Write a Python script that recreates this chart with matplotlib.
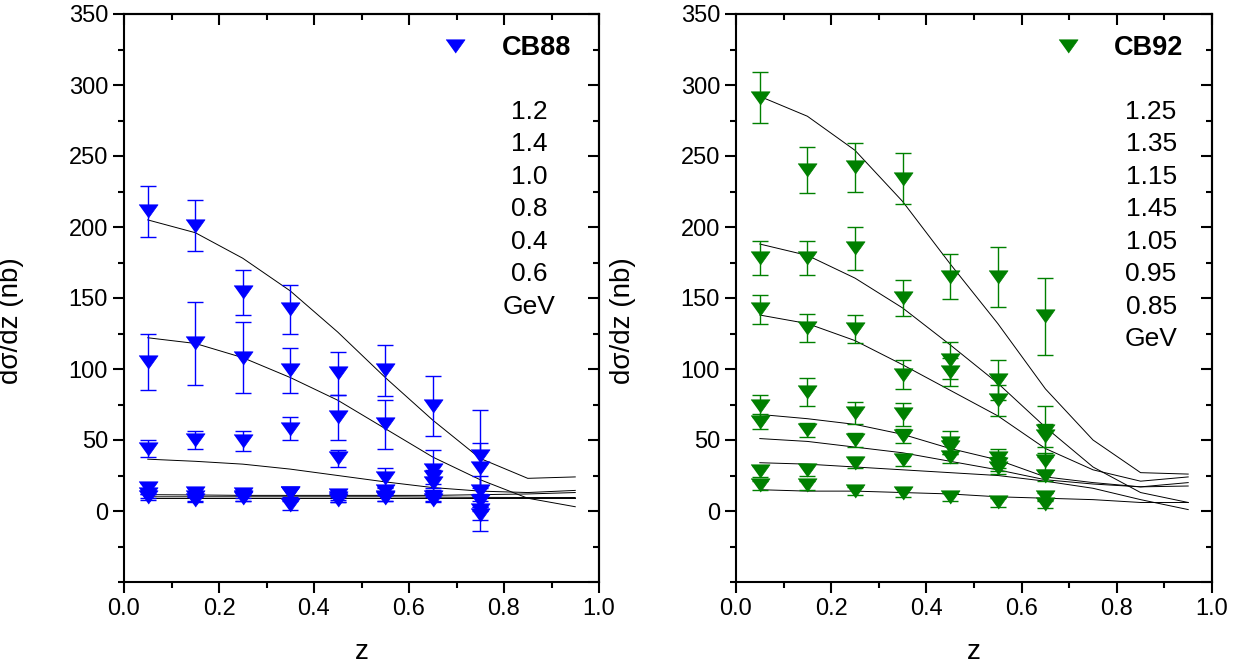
import matplotlib
matplotlib.use("Agg")
import matplotlib.pyplot as plt
from matplotlib.ticker import MultipleLocator

plt.rcParams['font.family'] = ['Liberation Sans', 'DejaVu Sans']

# ---- CB88 (left panel) ----
z88 = [0.05, 0.15, 0.25, 0.35, 0.45, 0.55, 0.65, 0.75]
cb88 = [
    [211, 201, 154, 142, 97, 99, 74, 39],
    [105, 118, 108, 99, 66, 61, 29, 30],
    [44, 50, 49, 58, 37, 23, 24, 14],
    [16, 13, 12, 13, 11, 14, 20, 7],
    [12, 10, 10, 13, 9, 10, 10, 1],
    [10, 8, 9, 4, 8, 9, 8, -3],
]
cb88_err = [
    [18, 18, 16, 17, 15, 18, 21, 32],
    [20, 29, 25, 16, 16, 17, 14, 18],
    [6, 6, 7, 8, 6, 7, 5, 11],
    [4, 3, 3, 4, 3, 3, 4, 4],
    [3, 3, 3, 3, 3, 3, 3, 15],
    [2, 2, 2, 3, 2, 2, 2, 3],
]
zfit = [0.05, 0.15, 0.25, 0.35, 0.45, 0.55, 0.65, 0.75, 0.85, 0.95]
fit88 = [
    [205, 196, 178, 155, 126, 94, 64, 37, 23, 24],
    [122, 118, 108, 94, 78, 58, 38, 22, 9, 3],
    [36.5, 35, 33, 29.5, 25, 20.5, 16.5, 14, 13, 14.5],
    [11.5, 11.3, 11, 11, 11, 11, 11, 11.5, 12, 13],
    [10, 10, 10, 10, 10, 10, 9.8, 9.6, 9.5, 9.5],
    [9, 9, 9, 9, 9, 9, 9, 9, 9, 9],
]
e88 = ['1.2', '1.4', '1.0', '0.8', '0.4', '0.6', 'GeV']

# ---- CB92 (right panel) ----
z92 = [0.05, 0.15, 0.25, 0.35, 0.45, 0.55, 0.65]
cb92 = [
    [291, 240, 242, 234, 165, 165, 137],
    [178, 178, 185, 150, 106, 92, 56],
    [142, 129, 128, 96, 98, 78, 53],
    [74, 84, 69, 68, 48, 37, 35],
    [63, 57, 50, 53, 45, 33, 25],
    [28, 29, 34, 36, 38, 30, 10],
    [18, 18, 14, 13, 10, 6, 5],
]
cb92_err = [
    [18, 16, 17, 18, 16, 21, 27],
    [12, 12, 15, 13, 13, 14, 18],
    [10, 10, 10, 10, 10, 11, 8],
    [8, 10, 8, 8, 8, 7, 6],
    [5, 5, 5, 5, 5, 5, 4],
    [4, 4, 4, 4, 4, 4, 3],
    [3, 3, 3, 3, 3, 3, 3],
]
fit92 = [
    [292, 278, 254, 218, 174, 132, 86, 50, 27, 26],
    [188, 180, 164, 143, 117, 90, 59, 31, 13, 6],
    [138, 132, 120, 103, 85, 67, 44, 29, 21, 24],
    [68, 65, 61, 54, 44, 36, 24, 20, 17, 20],
    [51, 49, 45, 41, 35, 29, 22, 19, 17, 17.6],
    [34, 33, 31, 29, 27, 25, 21, 16, 8, 1],
    [15, 14, 14, 13, 12, 10, 9, 8, 6, 6],
]
e92 = ['1.25', '1.35', '1.15', '1.45', '1.05', '0.95', '0.85', 'GeV']

tri = [(-1, 0.7), (1, 0.7), (0, -0.7)]

fig = plt.figure(figsize=(12.41, 6.67), dpi=100)
ax1 = fig.add_axes([124 / 1241, 85 / 667, 475 / 1241, 568 / 667])
ax2 = fig.add_axes([736 / 1241, 85 / 667, 476 / 1241, 568 / 667])


def panel(ax, zs, data, errs, fits, color, name, energies, ex):
    for f in fits:
        ax.plot(zfit, f, color='black', lw=0.7)
    for i, (d, e) in enumerate(zip(data, errs)):
        ax.errorbar(zs, d, yerr=e, fmt='none', ecolor=color, elinewidth=1.0,
                    capsize=5.5, capthick=1.0)
        ax.plot(zs, d, ls='none', marker=tri, ms=13.7, color=color,
                mec=color, mew=0.5, label=name if i == 0 else None)

    ax.set_xlim(0, 1)
    ax.set_ylim(-50, 350)
    ax.set_xticks([0, 0.2, 0.4, 0.6, 0.8, 1.0])
    ax.set_yticks(range(0, 351, 50))
    ax.xaxis.set_minor_locator(MultipleLocator(0.1))
    ax.yaxis.set_minor_locator(MultipleLocator(25))
    ax.tick_params(which='both', direction='out', width=1.5, labelsize=17)
    ax.tick_params(which='major', length=8)
    ax.tick_params(which='minor', length=4.5)
    for s in ax.spines.values():
        s.set_linewidth(1.5)

    sy = ax.secondary_yaxis('right')
    sy.set_yticks(range(-50, 351, 50))
    sy.yaxis.set_minor_locator(MultipleLocator(25))
    sy.tick_params(which='both', direction='in', width=1.5, labelright=False)
    sy.tick_params(which='major', length=8)
    sy.tick_params(which='minor', length=4.5)
    sy.spines['right'].set_linewidth(1.5)

    sx = ax.secondary_xaxis('top')
    sx.set_xticks([0, 0.2, 0.4, 0.6, 0.8, 1.0])
    sx.xaxis.set_minor_locator(MultipleLocator(0.1))
    sx.tick_params(which='both', direction='in', width=1.5, labeltop=False)
    sx.tick_params(which='major', length=8)
    sx.tick_params(which='minor', length=4.5)
    sx.spines['top'].set_linewidth(1.5)

    ax.set_xlabel('z', fontsize=20)
    ax.set_ylabel('dσ/dz (nb)', fontsize=20)
    ax.xaxis.set_label_coords(0.5, -0.1)
    ax.yaxis.set_label_coords(-0.21, 0.46)

    ax.legend(loc='center', bbox_to_anchor=(0.805, 0.94), frameon=False,
              handlelength=1.0, handletextpad=1.2, borderpad=0,
              prop={'weight': 'bold', 'size': 19.5})
    y0 = 0.8275
    for k, t in enumerate(energies):
        ax.text(ex, y0 - k * 0.0572, t, transform=ax.transAxes,
                ha='center', va='center', fontsize=19)


panel(ax1, z88, cb88, cb88_err, fit88, '#0000ff', 'CB88', e88, 0.853)
panel(ax2, z92, cb92, cb92_err, fit92, '#008000', 'CB92', e92, 0.872)

fig.savefig('out.png', dpi=100)
